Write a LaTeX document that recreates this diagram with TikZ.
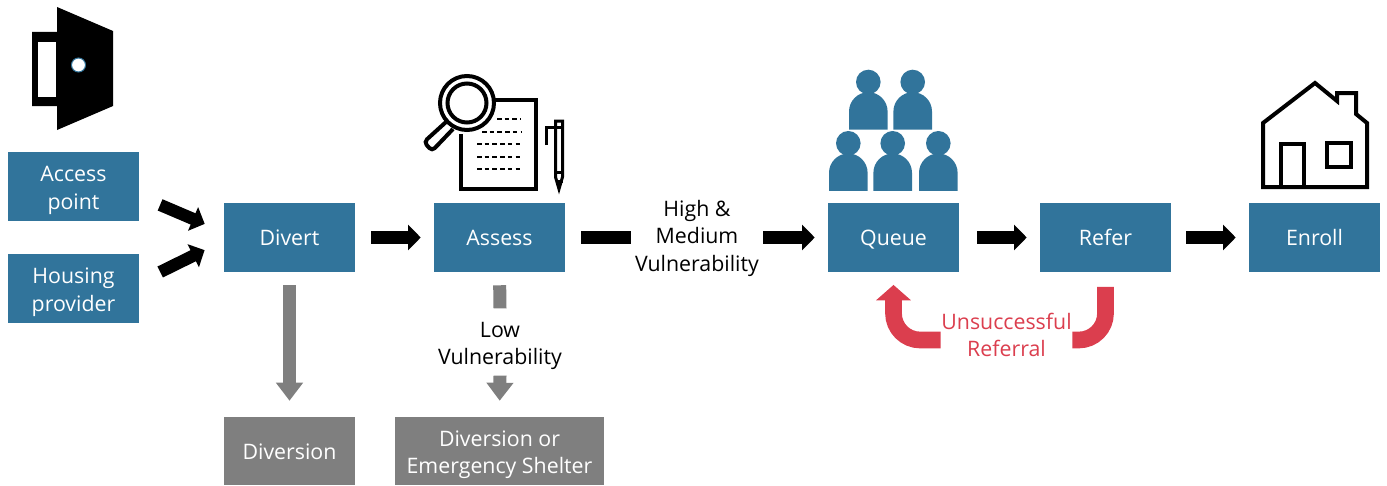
\documentclass[tikz,border=0pt]{standalone}
\usepackage{fontspec}
\setmainfont{Open Sans}
\usetikzlibrary{arrows.meta, calc, positioning}
\definecolor{boxblue}{HTML}{31749B}
\definecolor{boxgray}{HTML}{7F7F7F}
\definecolor{failred}{HTML}{DB3E4E}
\newcommand{\topgap}{\rule{0pt}{17pt}}
\tikzset{
  bluebox/.style={fill=boxblue,text=white,minimum width=98.25pt,minimum height=51.75pt,inner sep=0pt,align=center},
  graybox/.style={fill=boxgray,text=white,minimum height=51pt,inner sep=0pt,align=center},
  flowlabel/.style={inner sep=0pt,align=center},
  oneline/.style={text height=14.8pt,text depth=2.5pt},
  blackarrow/.style={line width=9.2pt,black,-{Triangle[length=9.5pt,width=18.75pt]}},
  blackbar/.style={line width=9.2pt,black},
  grayarrow/.style={line width=9.75pt,boxgray,-{Triangle[length=13.5pt,width=19.5pt]}},
  graybar/.style={line width=9.75pt,boxgray},
  redarrow/.style={line width=12.5pt,failred,rounded corners=20pt,-{Triangle[length=11.5pt,width=25.5pt]}},
  iconline/.style={line width=3pt,black,line join=miter},
}
\begin{document}
\begin{tikzpicture}[x=0.75pt,y=-0.75pt,font=\fontsize{16}{20.6}\selectfont]
    \useasboundingbox (0,0) rectangle (1387,485);
    \node[bluebox] (access) at (73.5,186.5) {\topgap Access\\point};
    \node[bluebox] (housing) at (73.5,288.5) {\topgap Housing\\provider};
    \node[bluebox,oneline] (divert) at (289.5,237.5) {Divert};
    \node[bluebox,oneline] (assess) at (499.5,237.5) {Assess};
    \node[bluebox,oneline] (queue) at (893.5,237.5) {Queue};
    \node[bluebox,oneline] (refer) at (1105.5,237.5) {Refer};
    \node[bluebox,oneline] (enroll) at (1314.5,237.5) {Enroll};
    \node[graybox,oneline,minimum width=98.25pt] (diversion) at (289.5,451) {Diversion};
    \node[graybox,minimum width=156.75pt] (shelter) at (499.5,451) {\topgap Diversion or\\Emergency Shelter};
    \node[flowlabel,minimum width=99pt] (high) at (697,238) {High \&\\Medium\\Vulnerability};
    \node[flowlabel,minimum height=50pt] (low) at (500,342) {\topgap Low\\Vulnerability};
    \node[flowlabel,text=failred,minimum width=98.25pt] (fail) at (1006.5,335) {Unsuccessful\\Referral};

    \draw[blackarrow,shorten <=17pt,shorten >=15.5pt] ([shift={(0,9.5)}]access.east) -- ([shift={(0,-5.5)}]divert.west);
    \draw[blackarrow,shorten <=17.5pt,shorten >=16pt] ([shift={(0,-6.2)}]housing.east) -- ([shift={(0,3.2)}]divert.west);
    \draw[blackarrow,shorten <=12pt,shorten >=9.75pt] (divert.east) -- (assess.west);
    \draw[blackbar,shorten <=12pt] (assess.east) -- (assess.east -| high.west);
    \draw[blackarrow,shorten >=9.75pt] (queue.west -| high.east) -- (queue.west);
    \draw[blackarrow,shorten <=13.5pt,shorten >=9.75pt] (queue.east) -- (refer.west);
    \draw[blackarrow,shorten <=11.25pt,shorten >=9.75pt] (refer.east) -- (enroll.west);
    \draw[grayarrow,shorten <=9.75pt,shorten >=12pt] (divert.south) -- (diversion.north);
    \draw[graybar,shorten <=9.75pt] (assess.south) -- (low.north);
    \draw[grayarrow,shorten >=12pt] (low.south) -- (shelter.north);
    \draw[failred,line width=12.5pt,rounded corners=20pt,shorten <=11pt] (refer.south) |- ([shift={(0,5)}]fail.east);
    \draw[redarrow,shorten >=9.5pt] ([shift={(0,5)}]fail.west) -| (queue.south);

    % door
    \fill (57,7) -- (113,31) -- (113,106) -- (57,130) -- (57,106) -- (32,106) -- (32,32) -- (57,32) -- cycle;
    \fill[white] (38,42) rectangle (56,97);
    \draw[boxblue,fill=white,line width=0.75pt] (78.5,65) circle (7);

    % paper and lens
    \draw[iconline] (495,100) -- (536,100) -- (536,189) -- (461,189) -- (461,134);
    \foreach \ly/\lx in {119/497,132/482,144/477,157/477,169/477}
        \draw[line width=1pt,dash pattern=on 3.4pt off 2.4pt] (\lx,\ly) -- (521,\ly);
    \draw[iconline] (467,103) circle (27);
    \draw[iconline] (467,103) circle (19.5);
    \draw[iconline,rounded corners=3pt] (446,122) -- (424,142) -- (432,151) -- (453,129);

    % pen
    \draw[line width=2.25pt,line join=miter] (555.5,121) -- (562.5,121) -- (562.5,177) -- (559,189) -- (555.5,177) -- cycle;
    \draw[line width=2.25pt] (546,145) -- (546,127.5) -- (562.5,127.5);
    \draw[line width=2.25pt] (555.5,172) -- (562.5,172);
    \draw[line width=2.25pt] (555.5,181) -- (562.5,181);

    % people
    \foreach \hx/\hy in {868.3/82,912.7/82,848.3/143.3,892.7/143.3,938.3/143.3} {
        \fill[boxblue] (\hx,\hy) circle (12.3);
        \fill[boxblue] ($(\hx,\hy)+(-19.3,47.5)$) -- ++(0,-18) arc[start angle=180,end angle=0,x radius=19.3,y radius=-19.3] -- ++(0,18) -- cycle;
    }

    % house
    \draw[iconline] (1263,123) -- (1315,83) -- (1337,101) -- (1337,93) -- (1356,93) -- (1356,114) -- (1367,123) -- (1367,187) -- (1263,187) -- cycle;
    \draw[iconline] (1281,187) -- (1281,143.5) -- (1304,143.5) -- (1304,187);
    \draw[iconline] (1327,143) rectangle (1350.5,167);
\end{tikzpicture}
\end{document}
